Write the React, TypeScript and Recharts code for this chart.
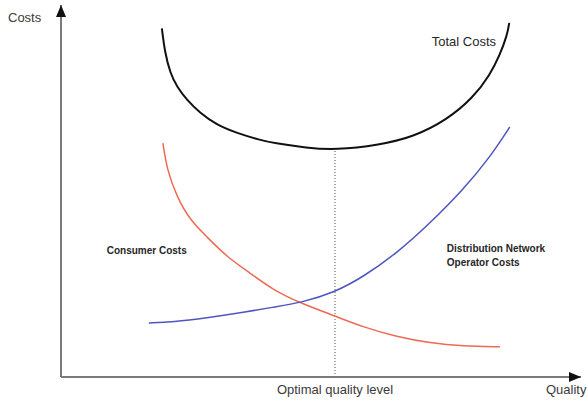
import { Line, LineChart, ReferenceDot, ReferenceLine, XAxis, YAxis } from 'recharts'

// quality (0-100) vs costs (0-100)
const totalX = [19.4, 20.0, 21.0, 22.3, 24.2, 26.7, 30.0, 33.8, 38.3, 40.8, 47.3, 52.7, 61.3, 67.7, 74.2, 79.2, 82.5, 84.4, 85.8, 86.2]
const totalY = [93.7, 87.1, 81.7, 78.0, 74.5, 71.0, 67.7, 65.6, 63.7, 62.9, 61.6, 61.0, 62.4, 64.5, 69.1, 75.0, 81.2, 86.6, 91.9, 95.2]

const consumerX = [19.6, 20.4, 22.3, 24.8, 28.1, 31.9, 36.3, 40.8, 46.0, 52.7, 58.1, 64.6, 71.0, 77.3, 84.4]
const consumerY = [62.9, 55.6, 48.4, 42.2, 37.6, 32.3, 28.0, 23.4, 19.9, 16.4, 13.4, 10.8, 9.1, 8.3, 8.1]

const dnoX = [16.9, 21.5, 28.1, 34.4, 40.8, 46.0, 52.7, 58.1, 64.6, 71.0, 77.3, 82.5, 86.3]
const dnoY = [14.5, 14.8, 15.9, 17.2, 18.8, 19.9, 22.8, 26.9, 33.3, 41.4, 50.3, 59.1, 67.2]

const optimalX = 52.7
const optimalY = 61.0

const toPoints = (xs: number[], ys: number[]) => xs.map((x, i) => ({ x, y: ys[i] }))

const totalData = toPoints(totalX, totalY)
const consumerData = toPoints(consumerX, consumerY)
const dnoData = toPoints(dnoX, dnoY)

const font = '"Liberation Sans", Arial, sans-serif'
const axisColor = '#7a7a7a'
const textColor = '#262626'

function YArrow({ cx, cy }: any) {
  return (
    <g>
      <polygon points={`${cx},${cy} ${cx - 5},${cy + 12} ${cx + 5},${cy + 12}`} fill="#111" />
      <text x={cx - 53} y={cy + 17} fontFamily={font} fontSize={13} fill="#3a3a3a">Costs</text>
    </g>
  )
}

function XArrow({ cx, cy }: any) {
  return (
    <g>
      <polygon points={`${cx},${cy} ${cx - 12},${cy - 5} ${cx - 12},${cy + 5}`} fill="#111" />
      <text x={cx - 35} y={cy + 17} fontFamily={font} fontSize={13} fill="#3a3a3a">Quality</text>
    </g>
  )
}

function Note({ cx, cy, lines, size, weight }: any) {
  return (
    <text x={cx} y={cy} fontFamily={font} fontSize={size} fontWeight={weight} fill={textColor}>
      {lines.map((l: string, i: number) => (
        <tspan key={i} x={cx} dy={i === 0 ? 0 : size + 4}>{l}</tspan>
      ))}
    </text>
  )
}

export default function App() {
  return (
    <div style={{ position: 'absolute', left: 0, top: 0, background: '#fff' }}>
      <LineChart width={587} height={400} margin={{ top: 5, right: 6, left: 0, bottom: 0 }}>
        <XAxis
          dataKey="x"
          type="number"
          domain={[0, 100]}
          ticks={[optimalX]}
          tickFormatter={() => 'Optimal quality level'}
          tickLine={false}
          height={23}
          axisLine={{ stroke: axisColor, strokeWidth: 2 }}
          tick={{ fill: '#3a3a3a', fontSize: 13, fontFamily: font }}
        />
        <YAxis
          type="number"
          domain={[0, 100]}
          width={61}
          tick={false}
          tickLine={false}
          axisLine={{ stroke: axisColor, strokeWidth: 2 }}
        />
        <ReferenceLine
          segment={[{ x: optimalX, y: 0 }, { x: optimalX, y: optimalY }]}
          stroke="#555"
          strokeDasharray="1 2"
          strokeWidth={1}
        />
        <Line data={totalData} dataKey="y" type="basis" stroke="#111" strokeWidth={2} dot={false} isAnimationActive={false} />
        <Line data={consumerData} dataKey="y" type="basis" stroke="#ee6a55" strokeWidth={1.5} dot={false} isAnimationActive={false} />
        <Line data={dnoData} dataKey="y" type="basis" stroke="#4f55c0" strokeWidth={1.5} dot={false} isAnimationActive={false} />
        <ReferenceDot x={0} y={100} r={0} ifOverflow="visible" shape={(p: any) => <YArrow {...p} />} />
        <ReferenceDot x={100} y={0} r={0} ifOverflow="visible" shape={(p: any) => <XArrow {...p} />} />
        <ReferenceDot x={71.3} y={89.0} r={0} ifOverflow="visible" shape={(p: any) => <Note {...p} lines={['Total Costs']} size={13} weight="normal" />} />
        <ReferenceDot x={8.8} y={33.1} r={0} ifOverflow="visible" shape={(p: any) => <Note {...p} lines={['Consumer Costs']} size={10} weight="bold" />} />
        <ReferenceDot x={74.2} y={33.6} r={0} ifOverflow="visible" shape={(p: any) => <Note {...p} lines={['Distribution Network', 'Operator Costs']} size={10} weight="bold" />} />
      </LineChart>
    </div>
  )
}
